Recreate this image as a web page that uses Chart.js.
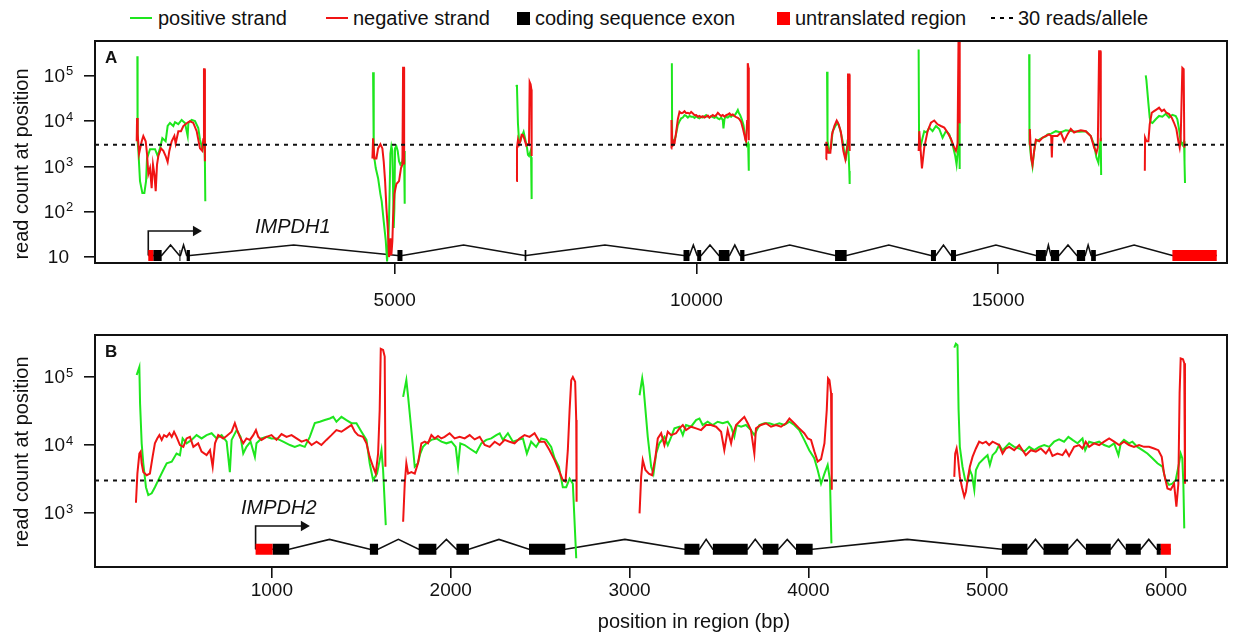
<!DOCTYPE html>
<html>
<head>
<meta charset="utf-8">
<script src="https://cdn.jsdelivr.net/npm/chart.js@4.4.1/dist/chart.umd.min.js"></script>
<style>
  body { margin: 0; background: #fff; width: 1233px; height: 634px; position: relative; overflow: hidden;
         font-family: "Liberation Sans", Arial, sans-serif; }
  #legend { position: absolute; top: 7px; left: 0; width: 1233px; height: 22px; font-size: 20px; color: #111; }
  #legend .item { position: absolute; top: 0; height: 22px; line-height: 22px; white-space: nowrap; display: flex; align-items: center; }
  #legend .mark { display: inline-block; }
  canvas { position: absolute; left: 0; }
</style>
</head>
<body>
<div id="legend"></div>
<canvas id="panelA" width="1233" height="282" style="top:30px"></canvas>
<canvas id="panelB" width="1233" height="322" style="top:312px"></canvas>
<script>
// ---- data (bp, read count) ----
const legendLabels = ['positive strand', 'negative strand', 'coding sequence exon', 'untranslated region', '30 reads/allele'];
const geneNames = ['IMPDH1', 'IMPDH2'];
const threshold = 3000;

const xTicksA = [5000, 10000, 15000];
const yTicksA = [10, 100, 1000, 10000, 100000];
const xTicksB = [1000, 2000, 3000, 4000, 5000, 6000];
const yTicksB = [1000, 10000, 100000];

const posStrandA = [
  [[734,270000],[738,3600],[751,2200],[778,475],[817,260],[850,260],[878,475],[894,1500],[944,2400],[1027,2400],[1071,1700],[1109,2500],[1148,4200],[1203,3600],[1236,7800],[1275,9100],[1330,7800],[1358,9500],[1413,8600],[1468,10600],[1523,9100],[1568,4700],[1579,9100],[1634,10600],[1689,10000],[1744,7000],[1772,3900],[1810,2500],[1843,3600],[1854,1200],[1860,170]],
  [[4641,120000],[4652,1900],[4685,920],[4724,550],[4762,245],[4784,170],[4817,62],[4851,23],[4873,8],[4895,23],[4906,73],[4928,1900],[4944,2800],[4961,2200],[4972,330],[4983,44],[4994,120],[5005,2500],[5027,2800],[5049,2200],[5071,1300],[5093,1100],[5127,1300],[5154,2200],[5165,150]],
  [[7015,63000],[7026,56000],[7042,9000],[7059,3800],[7081,3600],[7103,4500],[7136,5800],[7160,4200],[7192,2600],[7208,1800],[7225,1700],[7252,2200],[7260,1600],[7269,190]],
  [[9593,190000],[9598,3200],[9620,3500],[9654,4500],[9692,8200],[9720,10000],[9747,11500],[9775,12000],[9803,13500],[9830,13000],[9858,12000],[9886,13000],[9913,12500],[9941,12500],[9969,11800],[9996,12800],[10024,12000],[10051,11500],[10079,12500],[10106,12000],[10134,12800],[10161,13600],[10189,12500],[10216,12000],[10244,13000],[10272,12200],[10299,11800],[10327,12500],[10355,11500],[10382,11000],[10410,12000],[10437,10500],[10448,6900],[10465,11000],[10482,12500],[10520,12000],[10548,13000],[10575,12500],[10603,13600],[10630,13000],[10658,15000],[10686,17600],[10704,15000],[10724,13600],[10752,11000],[10780,8200],[10813,4200],[10835,2900],[10857,3200],[10868,800]],
  [[12165,123000],[12170,3600],[12176,3600],[12203,2200],[12231,2600],[12258,6000],[12303,7800],[12341,9200],[12380,6700],[12424,3600],[12457,1850],[12479,1570],[12507,3900],[12523,1850],[12534,790],[12540,410]],
  [[13683,380000],[13690,3600],[13721,3000],[13749,4300],[13776,6000],[13815,5600],[13859,7200],[13914,6000],[13970,7800],[14025,6700],[14080,4300],[14135,6000],[14190,5100],[14246,3000],[14290,1700],[14312,1100],[14334,2200],[14356,9200],[14360,3000],[14367,880]],
  [[15515,300000],[15520,3600],[15543,1700],[15570,1000],[15598,2200],[15626,3600],[15681,3900],[15736,4300],[15791,4600],[15819,5100],[15880,5300],[15957,6000],[16040,5600],[16122,6300],[16233,6000],[16343,5800],[16454,6000],[16536,4700],[16592,3000],[16630,1570],[16663,1200],[16685,2600],[16702,4300],[16708,650]],
  [[17447,102000],[17458,80000],[17491,25000],[17513,12000],[17530,9500],[17558,9100],[17613,11000],[17668,13000],[17723,12500],[17778,14500],[17834,12000],[17889,13800],[17944,13000],[17971,11000],[17999,6700],[18026,3600],[18054,3000],[18082,3600],[18090,1200],[18098,430]]
];

const negStrandA = [
  [[723,3600],[729,11700],[740,5200],[762,1900],[806,3600],[833,4700],[872,3600],[894,1900],[916,680],[944,920],[971,330],[993,1100],[1016,680],[1038,285],[1060,1100],[1082,1700],[1126,2500],[1165,2200],[1203,1700],[1236,1250],[1264,2200],[1303,3600],[1347,4700],[1369,3200],[1413,6000],[1457,6000],[1496,7800],[1551,9000],[1606,10000],[1661,9100],[1717,6000],[1772,2500],[1810,2200],[1827,4000],[1838,140000],[1849,140000],[1854,1300]],
  [[4630,1500],[4641,4200],[4663,1500],[4696,1500],[4724,2500],[4762,3100],[4795,2500],[4817,1300],[4840,475],[4862,120],[4884,44],[4906,10],[4928,26],[4944,11],[4961,23],[4972,73],[4994,245],[5027,410],[5071,475],[5104,920],[5127,1100],[5138,150000],[5154,150000],[5156,1100]],
  [[7015,480],[7026,2600],[7042,3800],[7059,3000],[7081,3600],[7103,5000],[7125,4900],[7150,4000],[7181,2900],[7208,3100],[7225,3000],[7236,73000],[7252,65000],[7264,50000],[7269,1700]],
  [[9582,2500],[9587,10600],[9598,4000],[9609,2900],[9637,3200],[9665,5800],[9692,11000],[9720,16000],[9747,15000],[9775,15300],[9803,16500],[9830,15000],[9858,15300],[9886,14500],[9913,16000],[9941,14800],[9969,13500],[9996,13600],[10024,12500],[10051,13000],[10079,12200],[10106,12800],[10134,12000],[10161,12500],[10189,13200],[10216,12000],[10244,12800],[10272,13600],[10299,12800],[10327,13500],[10355,15300],[10382,14000],[10410,13000],[10437,13600],[10465,12500],[10493,13500],[10520,14000],[10548,14800],[10575,13500],[10603,14000],[10630,13000],[10658,12200],[10686,11800],[10713,11000],[10741,9600],[10769,7000],[10796,4900],[10813,3800],[10824,3600],[10840,10000],[10851,190000],[10862,150000],[10868,3800]],
  [[12148,1440],[12154,3500],[12165,2800],[12187,2000],[12220,2000],[12247,5100],[12286,7800],[12325,10300],[12358,8500],[12396,5600],[12435,2200],[12468,1440],[12490,2200],[12507,3000],[12512,107000],[12534,107000],[12540,2200]],
  [[13683,2200],[13694,6000],[13721,1850],[13738,900],[13776,2600],[13832,6000],[13887,9200],[13942,10300],[13997,8500],[14052,7800],[14108,7200],[14163,5600],[14218,4100],[14273,2600],[14301,2200],[14328,3200],[14345,900000],[14362,900000],[14364,9000]],
  [[15515,3000],[15526,6700],[15548,1570],[15570,1100],[15598,2200],[15626,3900],[15681,3600],[15736,4300],[15791,4700],[15846,5100],[15880,4700],[15891,1570],[15902,4700],[15984,4700],[16040,5600],[16095,3600],[16150,5100],[16205,6700],[16260,5600],[16316,6000],[16371,6300],[16454,6000],[16536,4700],[16592,2600],[16630,2000],[16652,2600],[16674,350000],[16696,350000],[16702,3600]],
  [[17432,800],[17436,4300],[17458,3600],[17491,3600],[17513,8500],[17547,15300],[17585,16600],[17624,18000],[17668,19800],[17712,16600],[17751,18000],[17789,15300],[17834,14300],[17878,11900],[17916,9200],[17955,6700],[17988,3600],[18010,2600],[18026,3900],[18054,150000],[18076,140000],[18087,2600]]
];

const posStrandB = [
  [[244,107000],[259,140000],[263,41000],[272,10600],[281,5400],[296,2400],[309,1840],[328,1950],[346,2400],[365,3050],[393,4300],[412,5400],[440,5700],[467,7500],[486,7100],[501,12500],[523,10600],[551,11900],[579,14000],[607,12500],[635,14000],[663,14900],[691,12500],[719,14000],[747,11200],[765,4000],[775,11900],[803,16600],[825,13200],[840,7500],[858,9400],[881,11200],[905,6700],[914,10600],[942,12500],[970,13200],[998,12500],[1026,12500],[1063,11200],[1101,10000],[1128,9400],[1156,10000],[1184,9400],[1212,13200],[1240,21000],[1268,22000],[1296,23300],[1324,24600],[1343,26000],[1361,22000],[1389,26000],[1417,23300],[1445,21000],[1473,21000],[1501,15700],[1529,11900],[1547,5400],[1566,3050],[1588,3800],[1603,6000],[1613,8400],[1622,4300],[1637,665]],
  [[1734,51000],[1752,90000],[1762,51000],[1780,16600],[1799,4800],[1817,5400],[1830,7500],[1845,9400],[1864,10600],[1892,11900],[1920,12500],[1948,11200],[1976,10600],[2004,11200],[2028,9400],[2041,4800],[2054,10600],[2078,10000],[2106,8900],[2143,7700],[2171,10600],[2199,11900],[2227,12500],[2255,14000],[2274,14900],[2292,11900],[2320,14900],[2348,11200],[2376,11900],[2404,12500],[2426,7500],[2450,11200],[2478,9400],[2506,12500],[2534,11900],[2562,9400],[2581,6400],[2605,4800],[2627,2400],[2646,2400],[2665,3200],[2683,2700],[2702,216]],
  [[3056,54000],[3071,96000],[3078,72000],[3102,13200],[3121,4800],[3134,3800],[3149,7500],[3167,10600],[3195,13200],[3214,10000],[3233,13200],[3251,17600],[3279,18600],[3298,14000],[3316,19700],[3344,18600],[3372,23300],[3391,24600],[3409,19700],[3437,22000],[3465,19700],[3493,22000],[3521,20900],[3549,22000],[3568,18600],[3586,13200],[3599,19700],[3624,18600],[3651,19700],[3679,16600],[3698,14000],[3726,19700],[3754,20900],[3782,20900],[3810,19700],[3838,20900],[3866,19700],[3894,22000],[3921,19700],[3949,16600],[3977,11900],[4005,8400],[4033,6400],[4052,4300],[4071,2700],[4090,3800],[4108,5100],[4121,3050],[4129,358]],
  [[4816,270000],[4825,310000],[4834,295000],[4840,33000],[4847,9400],[4862,4800],[4877,3050],[4890,2900],[4903,4300],[4915,3600],[4928,2200],[4937,4300],[4955,5400],[4983,6400],[5002,7100],[5015,5100],[5030,7100],[5049,8000],[5067,10000],[5086,8400],[5104,9400],[5123,10600],[5151,9400],[5179,8900],[5207,8000],[5235,9400],[5263,8400],[5291,9400],[5319,10000],[5347,9400],[5374,11200],[5402,12100],[5430,11200],[5454,13200],[5477,11900],[5505,10600],[5533,12500],[5548,8400],[5570,11200],[5598,10600],[5626,11200],[5654,10000],[5682,9400],[5710,10600],[5734,7100],[5747,10600],[5765,11900],[5793,10600],[5812,11200],[5840,9400],[5868,8400],[5896,7500],[5924,6400],[5952,5400],[5980,4800],[5998,3050],[6017,2600],[6035,2700],[6054,3050],[6073,5400],[6082,7500],[6091,6400],[6097,2700],[6102,595]]
];

const negStrandB = [
  [[240,1420],[248,3800],[259,7500],[266,8000],[272,5400],[281,4000],[300,3600],[318,3800],[333,6700],[346,10600],[359,12500],[371,14000],[384,11900],[397,14000],[412,13200],[427,14900],[440,13200],[453,15700],[467,13200],[486,10000],[505,9400],[523,12500],[542,13200],[561,9400],[588,10600],[607,8000],[635,7100],[654,8400],[669,4800],[682,10600],[700,14000],[728,12500],[747,13600],[775,15700],[793,21000],[806,16600],[821,13200],[840,10600],[858,12500],[877,11900],[896,14000],[911,16600],[924,13200],[942,11900],[970,13200],[998,14000],[1026,11900],[1054,14500],[1082,13200],[1110,14000],[1138,12500],[1166,11200],[1194,11900],[1222,10000],[1250,11200],[1277,10000],[1305,11900],[1333,14000],[1361,16600],[1389,15700],[1417,17600],[1445,19700],[1464,15700],[1482,14000],[1510,13200],[1529,10600],[1547,6700],[1566,4800],[1581,3800],[1594,7500],[1603,33000],[1609,260000],[1622,250000],[1631,200000],[1635,4800]],
  [[1734,745],[1743,2700],[1752,5400],[1762,3800],[1780,4000],[1799,3800],[1817,5400],[1836,10600],[1855,11200],[1873,10600],[1892,14000],[1911,12500],[1929,13600],[1948,12500],[1966,13200],[1994,14900],[2022,12500],[2050,13200],[2078,12500],[2106,14000],[2134,12100],[2162,13200],[2190,10000],[2218,9400],[2246,11200],[2274,10000],[2302,11900],[2329,11200],[2357,10600],[2385,12500],[2413,14000],[2441,13200],[2469,14900],[2497,11200],[2525,11200],[2553,8400],[2581,6000],[2609,4000],[2627,3050],[2642,2900],[2655,8400],[2665,33000],[2674,90000],[2683,100000],[2696,85000],[2702,23300],[2704,1470]],
  [[3056,990],[3065,3400],[3074,6000],[3089,4300],[3108,3800],[3126,3600],[3145,6700],[3158,12500],[3177,14900],[3195,10000],[3214,15700],[3233,14000],[3260,14900],[3279,17600],[3298,19700],[3316,16600],[3344,18600],[3372,17600],[3400,16600],[3428,19700],[3456,19700],[3484,18600],[3512,15700],[3530,8400],[3549,16600],[3568,10600],[3577,14000],[3596,19700],[3624,23300],[3642,26000],[3661,20900],[3679,16600],[3698,7500],[3707,17600],[3735,19700],[3763,20900],[3791,18600],[3819,19700],[3847,18600],[3875,20900],[3894,24600],[3921,20900],[3949,17600],[3977,14900],[3997,12500],[4015,11900],[4034,8000],[4052,5700],[4071,6200],[4090,10600],[4103,33000],[4110,96000],[4118,90000],[4127,58000],[4131,2200]],
  [[4816,3400],[4821,7500],[4829,8900],[4836,6700],[4847,3400],[4859,2400],[4872,1740],[4881,2060],[4890,3050],[4903,4800],[4918,6700],[4937,8900],[4955,11200],[4974,10600],[4993,11200],[5011,10000],[5030,11200],[5049,10600],[5067,10000],[5086,7500],[5104,8900],[5123,9400],[5151,8400],[5179,10000],[5198,8400],[5216,7100],[5244,8400],[5272,8000],[5300,8900],[5328,7500],[5347,8900],[5365,6900],[5393,7500],[5421,7100],[5440,8400],[5458,6900],[5486,9400],[5514,10000],[5533,8900],[5551,11200],[5570,9400],[5598,10600],[5626,10000],[5654,11200],[5682,12500],[5710,11200],[5738,10000],[5765,11200],[5793,10000],[5821,9400],[5849,10000],[5877,9400],[5905,9400],[5933,8900],[5957,8400],[5976,6700],[5989,3800],[6008,2300],[6026,2200],[6045,2700],[6058,1240],[6069,2700],[6076,58000],[6082,188000],[6095,182000],[6102,160000],[6106,2700]]
];

// exon start/end in bp
const cdsExonsA = [[998,1137],[1431,1448],[1551,1605],[5045,5128],[7153,7181],[9786,9885],[10013,10079],[10371,10548],[10725,10796],[12298,12490],[13887,13970],[14219,14302],[15627,15792],[15875,16012],[16305,16443],[16542,16620]];
const utrExonsA = [[915,998],[17889,18624]];
const cdsExonsB = [[1004,1097],[1548,1594],[1821,1920],[2032,2102],[2438,2641],[3307,3391],[3466,3661],[3745,3833],[3931,4024],[5082,5225],[5315,5454],[5552,5691],[5775,5859],[5948,5971]];
const utrExonsB = [[909,1004],[5971,6027]];

// ---- look ----
const GREEN = '#1ee61e';
const RED = '#f01414';
const INK = '#111';
const FONT = '"Liberation Sans", Arial, Helvetica, sans-serif';
Chart.defaults.font.family = FONT;

// legend (html)
const legendMarks = [
  '<svg class="mark" width="22" height="4" style="margin-right:6px"><line x1="0" y1="2" x2="22" y2="2" stroke="' + GREEN + '" stroke-width="2"/></svg>',
  '<svg class="mark" width="22" height="4" style="margin-right:5px"><line x1="0" y1="2" x2="22" y2="2" stroke="' + RED + '" stroke-width="2"/></svg>',
  '<svg class="mark" width="13" height="13" style="margin-right:5px"><rect width="13" height="13" fill="#000"/></svg>',
  '<svg class="mark" width="13" height="13" style="margin-right:5px"><rect width="13" height="13" fill="#ff0000"/></svg>',
  '<svg class="mark" width="24" height="4" style="margin-right:3px"><line x1="0" y1="2" x2="24" y2="2" stroke="#000" stroke-width="2" stroke-dasharray="4 5"/></svg>'
];
const legendLeft = [130, 326, 517, 777, 991];
document.getElementById('legend').innerHTML = legendLabels.map((t, i) =>
  '<span class="item" style="left:' + legendLeft[i] + 'px">' + legendMarks[i] + '<span>' + t + '</span></span>').join('');

// helpers
function toPoints(segments) {
  const pts = [];
  segments.forEach((seg, i) => {
    if (i > 0) pts.push({ x: seg[0][0] - 1, y: null });
    seg.forEach(p => pts.push({ x: p[0], y: p[1] }));
  });
  return pts;
}
function exonPoints(exons, mid) {
  const pts = [];
  exons.forEach(e => { pts.push({ x: e[0], y: mid }, { x: e[1], y: mid }, { x: e[1], y: null }); });
  return pts;
}
function intronPoints(cds, utr, mid, peak) {
  const all = cds.concat(utr).map(e => e.slice()).sort((a, b) => a[0] - b[0]);
  const merged = [];
  all.forEach(e => {
    const last = merged[merged.length - 1];
    if (last && e[0] <= last[1]) last[1] = Math.max(last[1], e[1]);
    else merged.push(e);
  });
  const pts = [];
  merged.forEach((e, i) => {
    if (i > 0) pts.push({ x: (merged[i - 1][1] + e[0]) / 2, y: peak });
    pts.push({ x: e[0], y: mid }, { x: e[1], y: mid });
  });
  return { pts, start: merged[0][0] };
}

const panelDecor = {
  id: 'panelDecor',
  afterDraw(chart) {
    const c = chart.options.plugins.panelDecor;
    const { ctx, chartArea: a, scales } = chart;
    ctx.save();
    // box
    ctx.strokeStyle = INK; ctx.lineWidth = 2;
    ctx.strokeRect(a.left, a.top, a.right - a.left, a.bottom - a.top);
    // y tick labels: 10 with superscript exponent
    ctx.fillStyle = INK;
    c.yTicks.forEach(v => {
      const py = scales.y.getPixelForValue(v);
      const exp = Math.round(Math.log10(v));
      ctx.textBaseline = 'middle';
      if (exp === 1) {
        ctx.font = '19px ' + FONT; ctx.textAlign = 'right';
        ctx.fillText('10', a.left - 26, py + 1);
      } else {
        ctx.font = '19px ' + FONT; ctx.textAlign = 'right';
        ctx.fillText('10', a.left - 30, py + 1);
        ctx.font = '13px ' + FONT; ctx.textAlign = 'left';
        ctx.fillText(String(exp), a.left - 29, py - 4);
      }
    });
    // panel letter
    ctx.font = 'bold 17px ' + FONT; ctx.textAlign = 'left'; ctx.textBaseline = 'middle';
    ctx.fillText(c.letter, a.left + 10, a.top + 17);
    // y title
    ctx.font = '20px ' + FONT; ctx.textAlign = 'center';
    ctx.save();
    ctx.translate(a.left - 73, (a.top + a.bottom) / 2 + c.yTitleShift);
    ctx.rotate(-Math.PI / 2);
    ctx.fillText('read count at position', 0, 0);
    ctx.restore();
    // x title
    if (c.xTitle) {
      ctx.textAlign = 'center'; ctx.textBaseline = 'middle';
      ctx.fillText(c.xTitle, (a.left + a.right) / 2 + 33, a.bottom + 55);
    }
    // gene name
    ctx.font = 'italic 20px ' + FONT; ctx.textAlign = 'center'; ctx.textBaseline = 'middle';
    ctx.fillText(c.gene.name, scales.x.getPixelForValue(c.gene.labelX), scales.y.getPixelForValue(c.gene.labelY));
    ctx.restore();
  }
};

function makePanel(id, p) {
  const introns = intronPoints(p.cds, p.utr, p.track.mid, p.track.peak);
  const arrow = [
    { x: introns.start, y: p.track.mid },
    { x: introns.start, y: p.track.arrow },
    { x: p.track.arrowEnd, y: p.track.arrow }
  ];
  return new Chart(document.getElementById(id), {
    type: 'line',
    data: {
      datasets: [
        { label: 'threshold', data: [{ x: p.xMin, y: threshold }, { x: p.xMax, y: threshold }],
          borderColor: INK, borderWidth: 2, borderDash: [4, 5] },
        { label: 'negative strand', data: toPoints(p.neg), borderColor: RED, borderWidth: 2 },
        { label: 'positive strand', data: toPoints(p.pos), borderColor: GREEN, borderWidth: 2 },
        { label: 'utr', data: exonPoints(p.utr, p.track.mid), borderColor: '#ff0000', borderWidth: 11, borderCapStyle: 'butt' },
        { label: 'cds', data: exonPoints(p.cds, p.track.mid), borderColor: '#000', borderWidth: 11, borderCapStyle: 'butt' },
        { label: 'introns', data: introns.pts, borderColor: INK, borderWidth: 1.6 },
        { label: 'tss', data: arrow, borderColor: INK, borderWidth: 1.6, pointStyle: 'triangle', rotation: 90,
          pointRadius: ctx => ctx.dataIndex === 2 ? 6 : 0, pointBackgroundColor: INK, pointBorderColor: INK, pointBorderWidth: 0 }
      ]
    },
    options: {
      responsive: false,
      animation: false,
      devicePixelRatio: 1,
      events: [],
      layout: { padding: { left: 0, right: 5, top: p.padTop, bottom: 0 } },
      elements: { point: { radius: 0 }, line: { tension: 0, fill: false } },
      plugins: {
        legend: { display: false },
        tooltip: { enabled: false },
        panelDecor: { yTicks: p.yTicks, letter: p.letter, yTitleShift: p.yTitleShift, xTitle: p.xTitle, gene: p.gene }
      },
      scales: {
        x: {
          type: 'linear', min: p.xMin, max: p.xMax,
          afterBuildTicks: s => { s.ticks = p.xTicks.map(v => ({ value: v })); },
          afterFit: s => { s.height = p.xAxisHeight; },
          ticks: { font: { size: 19 }, color: INK, padding: p.xLabelPad, maxRotation: 0, autoSkip: false, callback: v => String(v) },
          grid: { drawOnChartArea: false, drawTicks: true, tickLength: 11, color: INK, lineWidth: 1.6 },
          border: { display: false }
        },
        y: {
          type: 'logarithmic', min: p.yMin, max: p.yMax,
          afterBuildTicks: s => { s.ticks = p.yTicks.map(v => ({ value: v })); },
          afterFit: s => { s.width = 95; },
          ticks: { display: false },
          grid: { drawOnChartArea: false, drawTicks: true, tickLength: 11, color: INK, lineWidth: 1.6 },
          border: { display: false }
        }
      }
    },
    plugins: [panelDecor]
  });
}

makePanel('panelA', {
  pos: posStrandA, neg: negStrandA, cds: cdsExonsA, utr: utrExonsA,
  xMin: 32, xMax: 18794, yMin: 7.4, yMax: 586000, xTicks: xTicksA, yTicks: yTicksA,
  track: { mid: 10.8, peak: 18.4, arrow: 37.5, arrowEnd: 1705 },
  gene: { name: geneNames[0], labelX: 3311, labelY: 46 },
  letter: 'A', padTop: 11, xAxisHeight: 49, xLabelPad: 15, yTitleShift: 12, xTitle: null
});

makePanel('panelB', {
  pos: posStrandB, neg: negStrandB, cds: cdsExonsB, utr: utrExonsB,
  xMin: 11, xMax: 6341, yMin: 161, yMax: 415000, xTicks: xTicksB, yTicks: yTicksB,
  track: { mid: 293, peak: 410, arrow: 645, arrowEnd: 1179 },
  gene: { name: geneNames[1], labelX: 1039, labelY: 1180 },
  letter: 'B', padTop: 23, xAxisHeight: 67, xLabelPad: 1, yTitleShift: 1, xTitle: 'position in region (bp)'
});
</script>
</body>
</html>
